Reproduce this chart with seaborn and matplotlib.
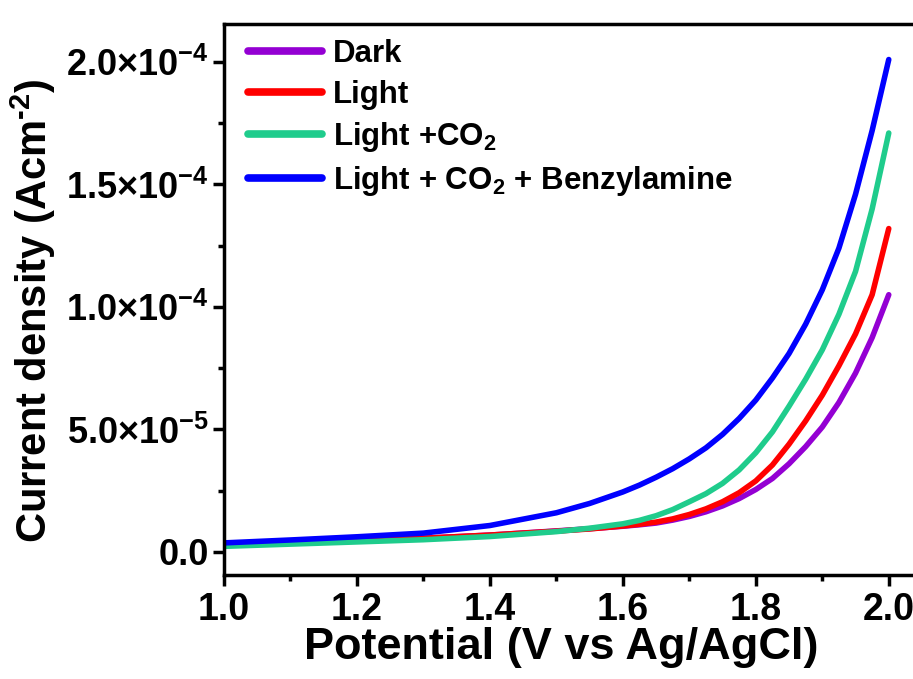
import numpy as np
import pandas as pd
import matplotlib
matplotlib.use("Agg")
import matplotlib.pyplot as plt
import seaborn as sns
from matplotlib.ticker import MultipleLocator, FuncFormatter

# ---- data (A cm^-2, in units of 1e-6) ----
potential = [1.0, 1.1, 1.2, 1.3, 1.4, 1.5, 1.55, 1.6, 1.625, 1.65, 1.675, 1.7,
             1.725, 1.75, 1.775, 1.8, 1.825, 1.85, 1.875, 1.9, 1.925, 1.95,
             1.975, 2.0]
dark = [2.9, 3.7, 4.6, 5.6, 6.9, 8.6, 9.5, 10.5, 11.1, 11.8, 13.0, 14.5,
        16.4, 18.8, 21.8, 25.5, 30.0, 36.0, 43.0, 51.0, 61.0, 73.0, 87.5, 105.0]
light = [2.9, 3.7, 4.6, 5.6, 6.9, 8.5, 9.4, 10.6, 11.3, 12.2, 13.5, 15.3,
         17.6, 20.5, 24.2, 29.0, 35.5, 44.0, 53.5, 64.0, 76.0, 89.0, 105.0, 132.0]
light_co2 = [2.3, 3.2, 4.1, 5.0, 6.3, 8.3, 9.7, 11.5, 12.9, 14.8, 17.3, 20.5,
             23.8, 28.0, 33.5, 40.5, 49.0, 59.5, 70.5, 82.5, 97.0, 114.5, 140.0, 171.0]
light_co2_benz = [3.7, 4.9, 6.2, 7.7, 10.8, 16.0, 19.8, 24.5, 27.3, 30.5, 34.0, 38.0,
                  42.5, 48.0, 54.5, 62.0, 71.0, 81.0, 93.0, 107.0, 124.0, 146.0,
                  172.0, 201.0]
series_names = ["Dark", "Light", "Light +CO$_\\mathbf{2}$",
                "Light + CO$_\\mathbf{2}$ + Benzylamine"]
series_colors = ["#9400D3", "#FF0000", "#1FCC8C", "#0000FF"]
scale = 1e-6

rows = []
for name, vals in zip(series_names, [dark, light, light_co2, light_co2_benz]):
    for x, v in zip(potential, vals):
        rows.append({"Potential": x, "Current": v * scale, "Series": name})
df = pd.DataFrame(rows)

sns.set_style("ticks")
plt.rcParams["font.family"] = ["Liberation Sans", "DejaVu Sans"]
plt.rcParams["font.weight"] = "bold"
plt.rcParams["mathtext.fontset"] = "custom"
plt.rcParams["mathtext.rm"] = "Liberation Sans:bold"
plt.rcParams["mathtext.bf"] = "Liberation Sans:bold"
plt.rcParams["mathtext.it"] = "Liberation Sans:bold"
plt.rcParams["mathtext.default"] = "bf"
for k in ["text.color", "axes.labelcolor", "xtick.color", "ytick.color", "axes.edgecolor"]:
    plt.rcParams[k] = "black"

fig = plt.figure(figsize=(9.13, 6.79), dpi=100)
ax = fig.add_axes([224 / 913, 104 / 679, 698 / 913, 551 / 679])

sns.lineplot(data=df, x="Potential", y="Current", hue="Series",
             hue_order=series_names, palette=series_colors,
             linewidth=4.0, ax=ax, sort=True, estimator=None)
for ln in ax.get_lines():
    ln.set_solid_capstyle("round")
    ln.set_solid_joinstyle("round")

ax.set_xlim(1.0, 2.05)
ax.set_ylim(-9.4e-6, 2.155e-4)

ax.xaxis.set_major_locator(MultipleLocator(0.2))
ax.xaxis.set_minor_locator(MultipleLocator(0.1))
ax.yaxis.set_major_locator(MultipleLocator(5e-5))
ax.yaxis.set_minor_locator(MultipleLocator(2.5e-5))
ax.xaxis.set_major_formatter(FuncFormatter(lambda v, p: f"{v:.1f}"))


def yfmt(v, p):
    if abs(v) < 1e-12:
        return "0.0"
    e = int(np.floor(np.log10(abs(v))))
    m = v / 10 ** e
    return r"$\mathbf{%.1f{\times}10^{-%d}}$" % (m, -e)


ax.yaxis.set_major_formatter(FuncFormatter(yfmt))

for s in ax.spines.values():
    s.set_linewidth(2.5)
    s.set_color("black")
ax.tick_params(axis="both", which="major", direction="out", length=8, width=2.5,
               pad=4, colors="black")
ax.tick_params(axis="x", which="major", labelsize=27)
ax.tick_params(axis="y", which="major", labelsize=26, pad=3)
ax.tick_params(axis="both", which="minor", direction="out", length=4, width=2.5)

ax.set_xlabel("Potential (V vs Ag/AgCl)", fontsize=32.5, fontweight="bold", labelpad=0)
ax.xaxis.set_label_coords(0.483, -0.095)
ax.xaxis.label.set_va("top")
ax.set_ylabel("Current density (Acm$^{\\text{-2}}$)", fontsize=30,
              fontweight="bold")
ax.yaxis.set_label_coords(-0.238, 0.48)

leg = ax.legend(loc="upper left", bbox_to_anchor=(0.035, 0.972), frameon=False,
                fontsize=22.5, handlelength=2.35, handletextpad=0.35,
                labelspacing=0.33, borderaxespad=0, borderpad=0)
for t in leg.get_texts():
    t.set_fontweight("bold")
for h in leg.legend_handles:
    h.set_linewidth(5.5)
    h.set_solid_capstyle("round")

fig.savefig("out.png", dpi=100)
